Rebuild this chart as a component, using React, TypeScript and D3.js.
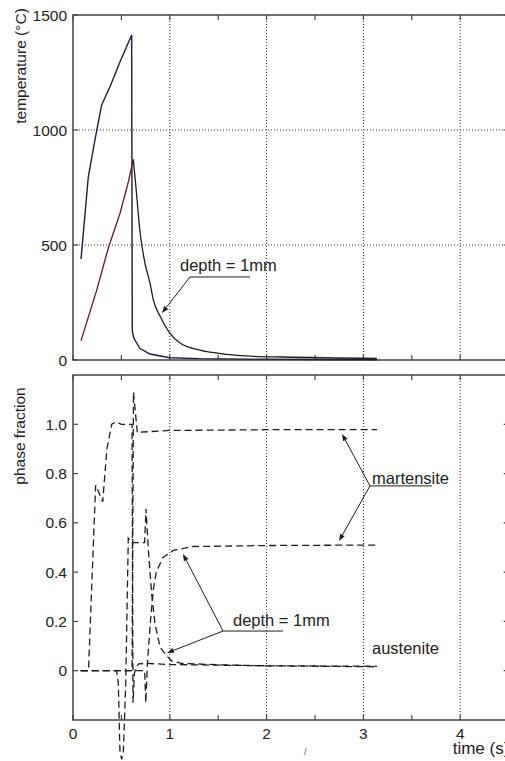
import React from "react";
import * as d3 from "d3";

// ---------- data ----------
// Upper panel: temperature (°C) vs time (s)
const surfaceTime = [0.083, 0.158, 0.227, 0.296, 0.382, 0.486, 0.606, 0.612, 0.625, 0.64, 0.69, 0.795, 1.0, 1.3, 1.8, 2.5, 3.14];
const surfaceTemp = [439, 796, 957, 1109, 1188, 1297, 1413, 130, 100, 87, 51, 26, 10, 6, 4, 2, 1];

const depthHeatTime = [0.083, 0.245, 0.365, 0.486, 0.572, 0.623];
const depthHeatTemp = [84, 304, 487, 638, 775, 872];
const depthCoolTime = [0.623, 0.65, 0.69, 0.744, 0.795, 0.83, 0.9, 0.967, 1.0, 1.105, 1.31, 1.49, 1.83, 2.17, 3.14];
const depthCoolTemp = [872, 754, 565, 420, 335, 261, 190, 138, 117, 74, 43, 30, 17, 13, 7];

// Lower panel: phase fraction vs time (s)
const austSurfTime = [0.08, 0.16, 0.234, 0.307, 0.35, 0.4, 0.444, 0.5, 0.61, 0.62, 0.635, 0.65, 0.68, 0.75, 1.0, 2.0, 3.14];
const austSurfFrac = [0, 0, 0.753, 0.686, 0.9, 1.0, 1.01, 1.0, 1.0, -0.13, -0.01, 0.015, 0.028, 0.03, 0.025, 0.02, 0.016];

const martSurfTime = [0.08, 0.61, 0.625, 0.665, 0.7, 1.0, 2.0, 3.14];
const martSurfFrac = [0, 0, 1.13, 0.965, 0.968, 0.975, 0.978, 0.978];

const austDepthTime = [0.08, 0.45, 0.468, 0.485, 0.503, 0.52, 0.545, 0.571, 0.6, 0.74, 0.754, 0.78, 0.813, 0.847, 0.9, 0.968, 1.02, 1.12, 1.5, 2.0, 3.14];
const austDepthFrac = [0, 0, -0.05, -0.33, -0.36, -0.33, -0.05, 0.537, 0.52, 0.52, 0.657, 0.48, 0.31, 0.19, 0.095, 0.06, 0.04, 0.03, 0.024, 0.02, 0.018];

const martDepthTime = [0.08, 0.74, 0.752, 0.77, 0.8, 0.83, 0.86, 0.93, 1.035, 1.24, 2.0, 3.14];
const martDepthFrac = [0, 0, -0.13, 0.04, 0.2, 0.33, 0.4, 0.46, 0.488, 0.504, 0.508, 0.51];

// ticks
const xMajorTicks = [0, 1, 2, 3, 4];
const xMinorTicks = [0.5, 1.5, 2.5, 3.5];
const xGridTicks = [1, 2, 3, 4];
const tempTicks = [0, 500, 1000, 1500];
const tempGrid = [500, 1000];
const fracTicks = [0, 0.2, 0.4, 0.6, 0.8, 1.0];

// ---------- layout ----------
const W = 505;
const H = 761;
const LEFT = 73;
const RIGHT = 508.6;
const TOP1 = 15, BOT1 = 360;
const TOP2 = 375, BOT2 = 720;

const FONT = "'Liberation Sans', Arial, Helvetica, sans-serif";
const AXIS = "#444";
const INK = "#1e1e1e";

const x = d3.scaleLinear().domain([0, 4.5]).range([LEFT, RIGHT]);
const yT = d3.scaleLinear().domain([0, 1500]).range([BOT1, TOP1]);
const yF = d3.scaleLinear().domain([-0.2, 1.2]).range([BOT2, TOP2]);

const zip = (a: number[], b: number[]) => a.map((v, i) => [v, b[i]] as [number, number]);
const lineT = d3.line<[number, number]>().x(d => x(d[0])).y(d => yT(d[1]));
const lineTSmooth = d3.line<[number, number]>().x(d => x(d[0])).y(d => yT(d[1])).curve(d3.curveMonotoneX);
const lineF = d3.line<[number, number]>().x(d => x(d[0])).y(d => yF(d[1]));

function Arrow({ x1, y1, x2, y2 }: { x1: number; y1: number; x2: number; y2: number }) {
  const ang = Math.atan2(y2 - y1, x2 - x1);
  const L = 7, Wd = 2.6;
  const bx = x2 - L * Math.cos(ang), by = y2 - L * Math.sin(ang);
  const p1 = [bx + Wd * Math.sin(ang), by - Wd * Math.cos(ang)];
  const p2 = [bx - Wd * Math.sin(ang), by + Wd * Math.cos(ang)];
  return (
    <g>
      <line x1={x1} y1={y1} x2={bx} y2={by} stroke={INK} strokeWidth={1} />
      <polygon points={`${x2},${y2} ${p1[0]},${p1[1]} ${p2[0]},${p2[1]}`} fill={INK} />
    </g>
  );
}

function Frame({ top, bottom, y, yTicks, grid, fmt }: { top: number; bottom: number; y: any; yTicks: number[]; grid: number[]; fmt: (v: number) => string }) {
  return (
    <g>
      {xGridTicks.map(t => (
        <line key={"vg" + t} x1={x(t)} x2={x(t)} y1={top} y2={bottom} stroke="#222" strokeWidth={0.9} strokeDasharray="1,2" />
      ))}
      {grid.map(v => (
        <line key={"hg" + v} x1={LEFT} x2={RIGHT} y1={y(v)} y2={y(v)} stroke="#222" strokeWidth={0.9} strokeDasharray="1,2" />
      ))}
      {[...xMajorTicks, ...xMinorTicks].map(t => (
        <g key={"xt" + t}>
          <line x1={x(t)} x2={x(t)} y1={bottom} y2={bottom - 5} stroke={AXIS} strokeWidth={1.2} />
          <line x1={x(t)} x2={x(t)} y1={top} y2={top + 5} stroke={AXIS} strokeWidth={1.2} />
        </g>
      ))}
      {yTicks.map(v => (
        <g key={"yt" + v}>
          <line x1={LEFT} x2={LEFT + 5} y1={y(v)} y2={y(v)} stroke={AXIS} strokeWidth={1.2} />
          <line x1={RIGHT} x2={RIGHT - 5} y1={y(v)} y2={y(v)} stroke={AXIS} strokeWidth={1.2} />
          <text x={67} y={y(v)} dy="0.36em" textAnchor="end" fontSize={15.5} fontFamily={FONT} fill="#222">
            {fmt(v)}
          </text>
        </g>
      ))}
      <rect x={LEFT} y={top} width={RIGHT - LEFT} height={bottom - top} fill="none" stroke={AXIS} strokeWidth={1.5} />
    </g>
  );
}

export default function App() {
  return (
    <svg width={W} height={H} style={{ position: "absolute", left: 0, top: 0, background: "#fff" }}>
      <rect x={0} y={0} width={W} height={H} fill="#fff" />

      {/* ---------- upper panel ---------- */}
      <Frame top={TOP1} bottom={BOT1} y={yT} yTicks={tempTicks} grid={tempGrid} fmt={v => String(v)} />
      <path d={lineT(zip(surfaceTime, surfaceTemp)) || ""} fill="none" stroke="#1d1d3f" strokeWidth={1.4} />
      <path d={lineT(zip(depthHeatTime, depthHeatTemp)) || ""} fill="none" stroke="#5b1d22" strokeWidth={1.3} />
      <path d={lineTSmooth(zip(depthCoolTime, depthCoolTemp)) || ""} fill="none" stroke="#1e1e1e" strokeWidth={1.3} />

      <text x={x(1.105)} y={yT(387)} fontSize={16.5} fontFamily={FONT} fill="#222">depth = 1mm</text>
      <line x1={x(1.209)} x2={x(1.829)} y1={yT(361)} y2={yT(361)} stroke={INK} strokeWidth={1} />
      <Arrow x1={x(1.209)} y1={yT(361)} x2={x(0.919)} y2={yT(204)} />

      <text transform={`translate(25.5,66) rotate(-90)`} textAnchor="middle" fontSize={15.5} fontFamily={FONT} fill="#222">
        temperature (°C)
      </text>

      {/* ---------- lower panel ---------- */}
      <Frame top={TOP2} bottom={BOT2} y={yF} yTicks={fracTicks} grid={[]} fmt={v => (v === 0 ? "0" : v.toFixed(1))} />
      {xMajorTicks.map(t => (
        <text key={"xl" + t} x={x(t)} y={738.5} textAnchor="middle" fontSize={15.5} fontFamily={FONT} fill="#222">
          {t}
        </text>
      ))}

      <path d={lineF(zip(austSurfTime, austSurfFrac)) || ""} fill="none" stroke={INK} strokeWidth={1.3} strokeDasharray="7,4" />
      <path d={lineF(zip(martSurfTime, martSurfFrac)) || ""} fill="none" stroke={INK} strokeWidth={1.3} strokeDasharray="7,4" />
      <path d={lineF(zip(austDepthTime, austDepthFrac)) || ""} fill="none" stroke={INK} strokeWidth={1.3} strokeDasharray="7,4" />
      <path d={lineF(zip(martDepthTime, martDepthFrac)) || ""} fill="none" stroke={INK} strokeWidth={1.3} strokeDasharray="7,4" />

      <text x={x(3.089)} y={yF(0.758)} fontSize={16.5} fontFamily={FONT} fill="#222">martensite</text>
      <line x1={x(3.068)} x2={x(3.709)} y1={yF(0.75)} y2={yF(0.75)} stroke={INK} strokeWidth={1} />
      <Arrow x1={x(3.068)} y1={yF(0.75)} x2={x(2.779)} y2={yF(0.961)} />
      <Arrow x1={x(3.068)} y1={yF(0.75)} x2={x(2.748)} y2={yF(0.526)} />

      <text x={x(1.653)} y={yF(0.181)} fontSize={16.5} fontFamily={FONT} fill="#222">depth = 1mm</text>
      <line x1={x(1.55)} x2={x(2.17)} y1={yF(0.161)} y2={yF(0.161)} stroke={INK} strokeWidth={1} />
      <Arrow x1={x(1.55)} y1={yF(0.161)} x2={x(1.136)} y2={yF(0.474)} />
      <Arrow x1={x(1.55)} y1={yF(0.161)} x2={x(0.971)} y2={yF(0.072)} />

      <text x={x(3.089)} y={yF(0.068)} fontSize={16.5} fontFamily={FONT} fill="#222">austenite</text>

      <text transform={`translate(24.5,436) rotate(-90)`} textAnchor="middle" fontSize={15.5} fontFamily={FONT} fill="#222">
        phase fraction
      </text>
      <text x={452.7} y={754} fontSize={17} fontFamily={FONT} fill="#222">time (s)</text>
      <text x={304} y={755} fontSize={9} fontFamily={FONT} fill="#555">/</text>
    </svg>
  );
}
